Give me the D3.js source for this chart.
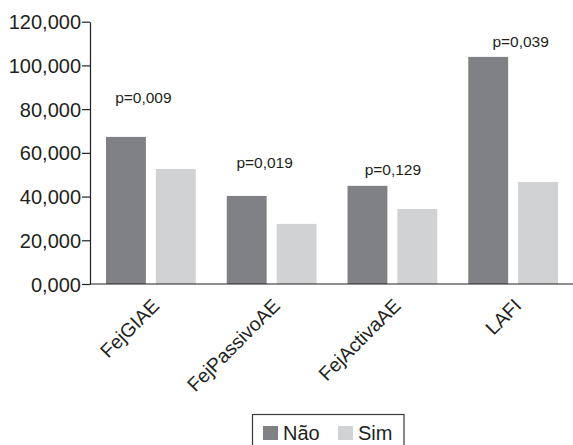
<!DOCTYPE html>
<html>
<head>
<meta charset="utf-8">
<script src="https://cdn.jsdelivr.net/npm/d3@7"></script>
<style>
  html, body { margin: 0; padding: 0; background: #fff; }
  svg { display: block; font-family: "Liberation Sans", Arial, sans-serif; }
  .tick text { fill: #231f20; }
</style>
</head>
<body>
<div id="chart"></div>
<script>
// Chart data
const categories = ["FejGIAE", "FejPassivoAE", "FejActivaAE", "LAFI"];
const seriesNames = ["Não", "Sim"];
const naoValues = [67300, 40300, 44900, 103900];
const simValues = [52600, 27500, 34300, 46700];
const pLabels = ["p=0,009", "p=0,019", "p=0,129", "p=0,039"];
const pLabelLevels = [82700, 53000, 49900, 108600];
const yTickValues = [0, 20000, 40000, 60000, 80000, 100000, 120000];
const yTickLabels = ["0,000", "20,000", "40,000", "60,000", "80,000", "100,000", "120,000"];

const colors = { "Não": "#808184", "Sim": "#d1d2d4" };
const ink = "#231f20";

const width = 573, height = 445;
const margin = { left: 90, right: 0, top: 21.7, bottom: 161 };

const svg = d3.select("#chart").append("svg")
    .attr("width", width)
    .attr("height", height);

const x = d3.scaleBand()
    .domain(categories)
    .range([margin.left, width - margin.right]);

const inner = d3.scaleBand()
    .domain(seriesNames)
    .range([16, x.bandwidth() - 15])
    .paddingInner(0.2);

const y = d3.scaleLinear()
    .domain([0, 120000])
    .range([height - margin.bottom, margin.top]);

// bars
const rows = categories.map((c, i) => ({ cat: c, "Não": naoValues[i], "Sim": simValues[i] }));

const groups = svg.append("g").selectAll("g")
    .data(rows)
    .join("g")
    .attr("transform", d => `translate(${x(d.cat)},0)`);

groups.selectAll("rect")
    .data(d => seriesNames.map(s => ({ s, v: d[s] })))
    .join("rect")
    .attr("x", d => inner(d.s))
    .attr("width", inner.bandwidth())
    .attr("y", d => y(d.v))
    .attr("height", d => y(0) - y(d.v))
    .attr("fill", d => colors[d.s]);

// y axis
const yAxis = d3.axisLeft(y)
    .tickValues(yTickValues)
    .tickFormat((d, i) => yTickLabels[i])
    .tickSize(8)
    .tickPadding(1)
    .tickSizeOuter(0);

svg.append("g")
    .attr("transform", `translate(${margin.left},0)`)
    .call(yAxis)
    .call(g => g.selectAll("line, path").attr("stroke", ink).attr("stroke-width", 1.2))
    .call(g => g.selectAll("text").attr("font-size", 20).attr("dy", "0.35em"));

// x axis line
svg.append("line")
    .attr("x1", margin.left)
    .attr("x2", width)
    .attr("y1", y(0))
    .attr("y2", y(0))
    .attr("stroke", ink)
    .attr("stroke-width", 1.2);

// category labels (rotated)
svg.append("g").selectAll("text")
    .data(categories)
    .join("text")
    .attr("transform", d => `translate(${x(d) + x.bandwidth() / 2 + 10},${y(0) + 23}) rotate(-45)`)
    .attr("text-anchor", "end")
    .attr("font-size", 19.5)
    .attr("fill", ink)
    .text(d => d);

// p-value annotations
const pOffsets = [-7, -6.5, 1, 8];
svg.append("g").selectAll("text")
    .data(pLabels)
    .join("text")
    .attr("x", (d, i) => x(categories[i]) + x.bandwidth() / 2 + pOffsets[i])
    .attr("y", (d, i) => y(pLabelLevels[i]))
    .attr("text-anchor", "middle")
    .attr("font-size", 15.5)
    .attr("fill", ink)
    .text(d => d);

// legend
const legend = svg.append("g");
legend.append("rect")
    .attr("x", 252.5)
    .attr("y", 414.5)
    .attr("width", 151.5)
    .attr("height", 40)
    .attr("fill", "#fff")
    .attr("stroke", "#3a3a3a")
    .attr("stroke-width", 1.2);

const legendX = [263, 338];
seriesNames.forEach((s, i) => {
    legend.append("rect")
        .attr("x", legendX[i])
        .attr("y", 426)
        .attr("width", 15)
        .attr("height", 14)
        .attr("fill", colors[s]);
    legend.append("text")
        .attr("x", legendX[i] + 20)
        .attr("y", 440)
        .attr("font-size", 20)
        .attr("fill", ink)
        .text(s);
});
</script>
</body>
</html>
